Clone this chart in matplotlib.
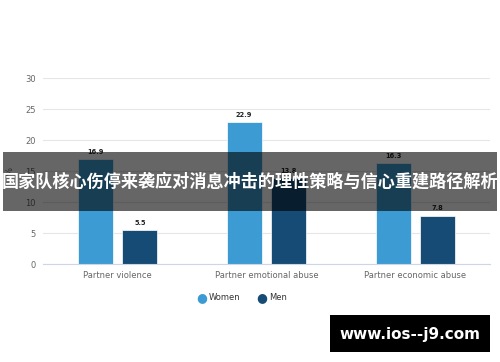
import numpy as np
import matplotlib.pyplot as plt

categories = ['Partner violence', 'Partner emotional abuse', 'Partner economic abuse']
women = [16.9, 22.9, 16.3]
men = [5.5, 13.8, 7.8]
yticks = [0, 5, 10, 15, 20, 25, 30]
title = '国家队核心伤停来袭应对消息冲击的理性策略与信心重建路径解析'
watermark = 'www.ios--j9.com'

c_women = '#3C9BD3'
c_men = '#154B74'

fig = plt.figure(figsize=(5, 3.62), dpi=100)
ax = fig.add_axes([0.086, 0.2707, 0.894, 0.5138])

x = np.arange(len(categories))
w = 0.236
b1 = ax.bar(x - 0.15, women, w, color=c_women, edgecolor='white', linewidth=0.5, zorder=2)
b2 = ax.bar(x + 0.15, men, w, color=c_men, edgecolor='white', linewidth=0.5, zorder=2)

for bars, vals in [(b1, women), (b2, men)]:
    for r, v in zip(bars, vals):
        ax.text(r.get_x() + r.get_width() / 2, v + 0.7, f'{v}', ha='center', va='bottom',
                fontsize=4.8, fontweight='bold', color='#222222')

ax.set_xlim(-0.5, 2.5)
ax.set_ylim(0, 30)
ax.set_yticks(yticks)
ax.set_xticks(x)
ax.set_xticklabels(categories)
ax.tick_params(axis='both', length=0, labelsize=6, colors='#666666', pad=5)
ax.grid(axis='y', color='#e6e6e6', linewidth=0.8, zorder=0)
for s in ['top', 'right', 'left']:
    ax.spines[s].set_visible(False)
ax.spines['bottom'].set_color('#ccd6eb')
ax.set_ylabel('%', fontsize=6, color='#666666', labelpad=8)

# legend
fig.text(0.404, 0.177, '●', color=c_women, fontsize=9, ha='center', va='center')
fig.text(0.418, 0.177, 'Women', color='#333333', fontsize=6, ha='left', va='center')
fig.text(0.524, 0.177, '●', color=c_men, fontsize=9, ha='center', va='center')
fig.text(0.538, 0.177, 'Men', color='#333333', fontsize=6, ha='left', va='center')

# banner overlay
fig.patches.append(plt.Rectangle((0.006, 1 - 211 / 362), 0.988, 59 / 362, transform=fig.transFigure,
                                 facecolor='black', edgecolor='none', alpha=0.6, zorder=5))
fig.text(0.5, 1 - 182 / 362, title, color='white', fontsize=12.3, fontweight='bold',
         ha='center', va='center', family=['Noto Sans CJK SC', 'DejaVu Sans'], zorder=6)

# watermark
fig.patches.append(plt.Rectangle((330 / 500, 1 - 352 / 362), 160 / 500, 37 / 362, transform=fig.transFigure,
                                 facecolor='black', edgecolor='none', zorder=5))
fig.text(410 / 500, 1 - 334 / 362, watermark, color='white', fontsize=11, fontweight='bold',
         ha='center', va='center', zorder=6)

fig.savefig('out.png', dpi=100)
